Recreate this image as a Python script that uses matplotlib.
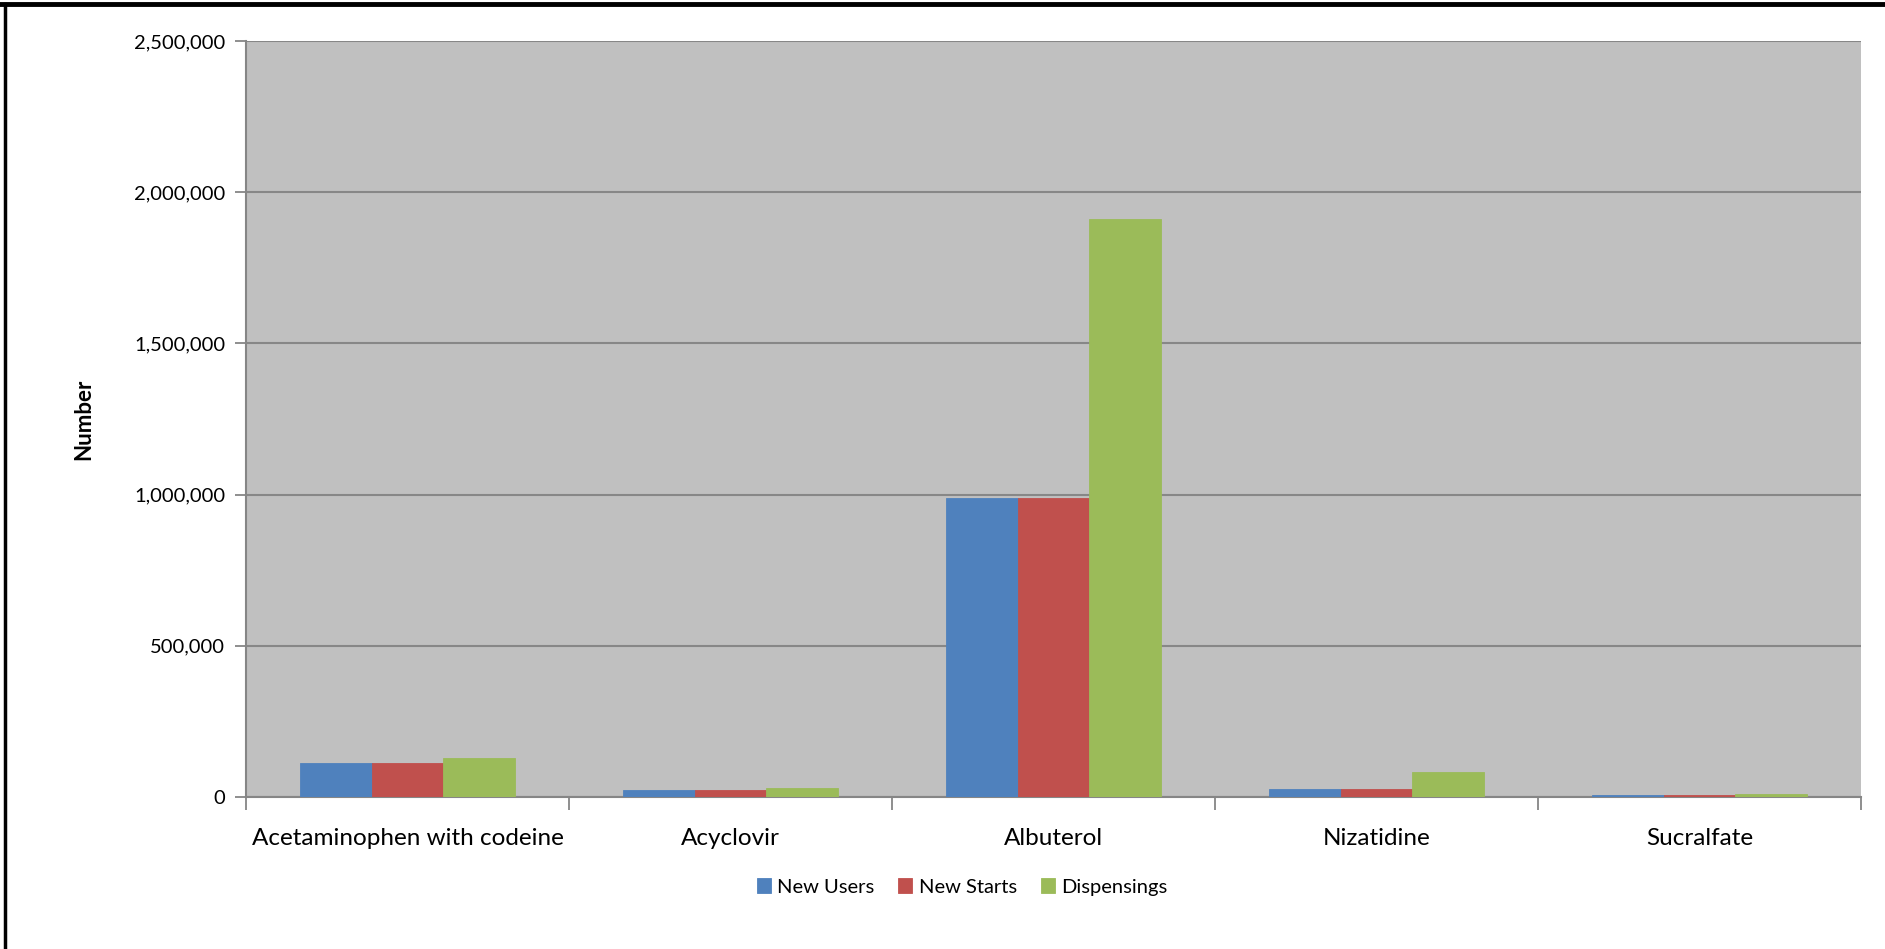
import matplotlib.pyplot as plt
import numpy as np
from matplotlib.lines import Line2D
from matplotlib.ticker import FuncFormatter, FixedLocator

plt.rcParams['font.family'] = ['Lato', 'DejaVu Sans']

drugs = ['Acetaminophen with codeine', 'Acyclovir', 'Albuterol', 'Nizatidine', 'Sucralfate']
new_users = [114000, 22000, 988000, 27500, 5000]
new_starts = [114000, 22000, 988000, 27500, 5000]
dispensings = [129000, 29000, 1910000, 83000, 9000]
series_names = ['New Users', 'New Starts', 'Dispensings']
colors = ['#4F81BD', '#C0504D', '#9BBB59']

fig = plt.figure(figsize=(18.85, 9.49), dpi=100)
ax = fig.add_axes([246 / 1885, 1 - 797 / 949, (1861 - 246) / 1885, (797 - 41) / 949])
ax.set_facecolor('#C0C0C0')

x = np.arange(len(drugs))
w = 1 / 4.5
for i, (vals, name) in enumerate(zip([new_users, new_starts, dispensings], series_names)):
    ax.bar(x + (i - 1) * w, vals, width=w, color=colors[i], label=name,
           edgecolor=colors[i], linewidth=0.6, zorder=3)

ax.set_xlim(-0.5, len(drugs) - 0.5)
ax.set_ylim(0, 2500000)
ax.set_yticks(np.arange(0, 2500001, 500000))
ax.yaxis.set_major_formatter(FuncFormatter(lambda v, p: f'{int(v):,}'))
ax.grid(axis='y', color='#878787', linewidth=1.5, zorder=1)
ax.set_axisbelow(True)

ax.set_xticks(x)
ax.set_xticklabels(drugs, fontsize=17.5)
ax.xaxis.set_minor_locator(FixedLocator(np.arange(-0.5, len(drugs), 1.0)))
ax.tick_params(axis='x', which='major', length=0, pad=22)
ax.tick_params(axis='x', which='minor', length=9, width=1.3, color='#868686', direction='out')
ax.tick_params(axis='y', length=8, width=1.3, color='#868686', labelsize=14.5, pad=7)

for s in ['top', 'right']:
    ax.spines[s].set_visible(False)
for s in ['left', 'bottom']:
    ax.spines[s].set_color('#868686')
    ax.spines[s].set_linewidth(1.5)

ax.set_ylabel('Number', fontsize=16, fontweight='bold')
ax.yaxis.set_label_coords((94 - 246) / 1615, 0.5)

ax.legend(loc='center', bbox_to_anchor=(962 / 1885, 1 - 887 / 949), bbox_transform=fig.transFigure,
          ncol=3, frameon=False, fontsize=14.5, handlelength=0.7, handleheight=0.7,
          handletextpad=0.3, columnspacing=1.2)

# document frame
fig.add_artist(Line2D([0, 1], [1 - 4 / 949, 1 - 4 / 949], color='black', linewidth=3.5))
fig.add_artist(Line2D([5 / 1885, 5 / 1885], [0, 1 - 4 / 949], color='black', linewidth=2.5))

fig.savefig('out.png', dpi=100)
